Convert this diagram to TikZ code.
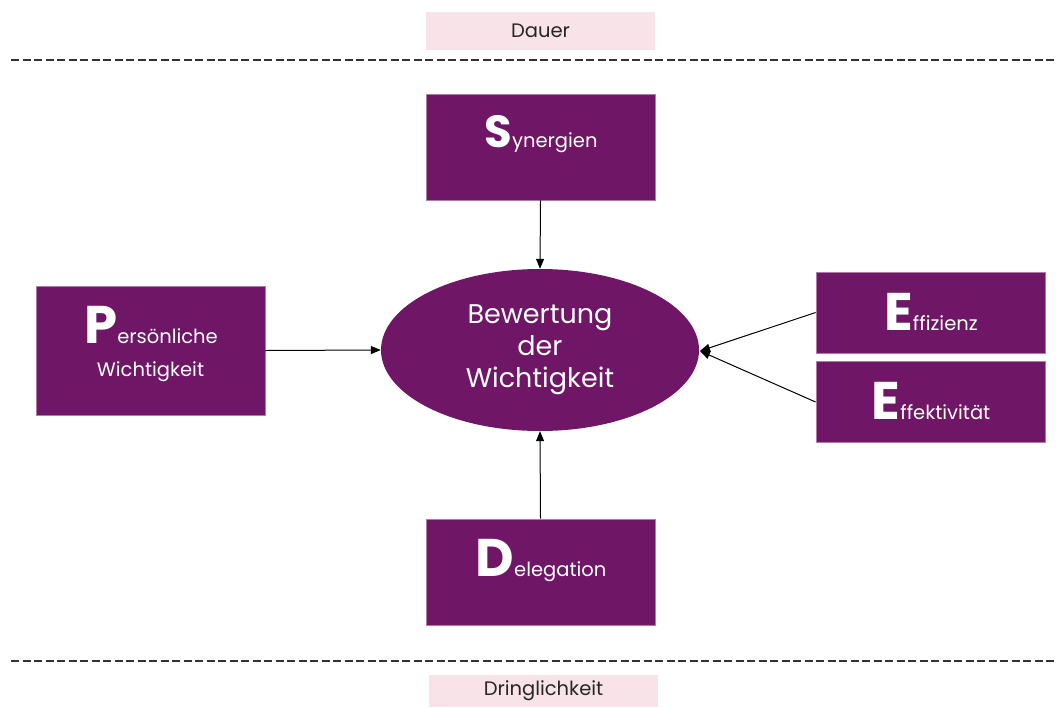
\documentclass[tikz,border=0pt]{standalone}
\usepackage{fontspec}
\setmainfont{Poppins}
\usetikzlibrary{arrows.meta,shapes.geometric}
\definecolor{plum}{HTML}{6F1667}
\definecolor{plumedge}{HTML}{B07AAB}
\definecolor{rose}{HTML}{F8E4E8}
\newcommand{\bigletter}[2][53]{{\fontsize{#1}{#1}\selectfont\bfseries #2}}
\newcommand{\smtext}{\fontsize{19.5}{22}\selectfont}
\begin{document}
\begin{tikzpicture}[x=1pt,y=-1pt,
  box/.style={draw=plumedge,line width=0.8pt,fill=plum,inner sep=0pt},
  lbl/.style={text=white,anchor=base,inner sep=0pt},
  tag/.style={fill=rose,inner sep=0pt,text=black!85,font=\fontsize{19.5}{22}\selectfont},
  sep/.style={dashed,dash pattern=on 8pt off 3.5pt,line width=1.1pt,black!80},
  arr/.style={-{Triangle[length=10pt,width=8pt]},line width=1pt,black}]
\useasboundingbox (0,0) rectangle (1056,707);
% top / bottom tags
\node[tag,minimum width=229pt,minimum height=38pt] (dauer) at (540.5,31) {Dauer};
\node[tag,minimum width=229pt,minimum height=32pt] (dring) at (543.5,691) {Dringlichkeit};
\coordinate (l1a) at (11,60); \coordinate (l1b) at (1056,60);
\coordinate (l2a) at (11,661); \coordinate (l2b) at (1056,661);
\draw[sep] (l1a) -- (l1b);
\draw[sep] (l2a) -- (l2b);
% boxes
\node[box,minimum width=229pt,minimum height=106pt] (syn) at (540.5,147) {};
\node[lbl] (synt) at (541,147) {\bigletter[45]{S}{\smtext ynergien}};
\node[box,minimum width=229pt,minimum height=106pt] (del) at (540.5,572) {};
\node[lbl] (delt) at (541,576) {\bigletter{D}{\smtext elegation}};
\node[box,minimum width=229pt,minimum height=129pt] (per) at (150.5,350.5) {};
\node[lbl] (pert) at (151,343) {\bigletter{P}{\smtext ersönliche}};
\node[lbl] (perw) at (150.5,376) {\smtext Wichtigkeit};
\node[box,minimum width=229pt,minimum height=81pt] (eff) at (930.5,312.5) {};
\node[lbl] (efft) at (931,330) {\bigletter{E}{\smtext ffizienz}};
\node[box,minimum width=229pt,minimum height=81pt] (efk) at (930.5,402) {};
\node[lbl] (efkt) at (931,419) {\bigletter{E}{\smtext ffektivität}};
% ellipse
\node[ellipse,fill=plum,text=white,minimum width=318pt,minimum height=162pt,inner sep=0pt,align=center,
  font=\fontsize{27}{32}\selectfont] (bew) at (540,350) {Bewertung\\der\\Wichtigkeit};
% arrows
\draw[arr] (syn.south) -- (bew.north);
\draw[arr] (del.north) -- (bew.south);
\draw[arr] (per.east) -- (bew.west);
\coordinate (tip) at (700,351);
\draw[arr] (eff.west) -- (tip);
\draw[arr] (efk.west) -- (tip);
\end{tikzpicture}
\end{document}
